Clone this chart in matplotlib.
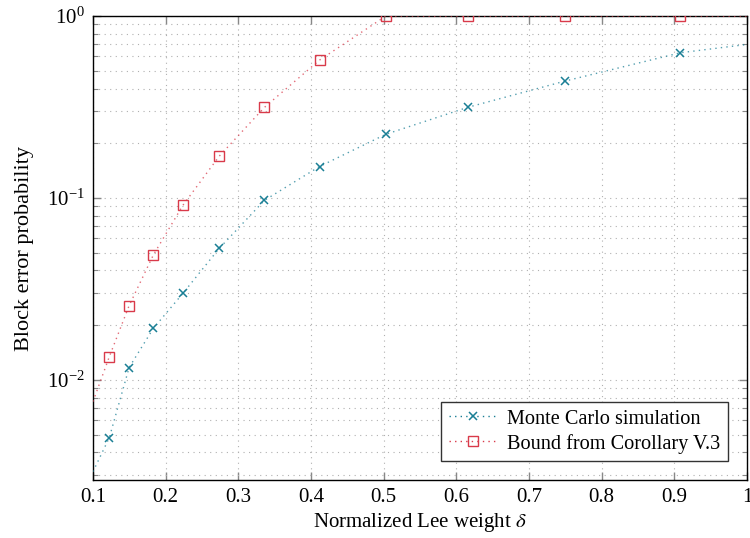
import matplotlib
matplotlib.use('Agg')
import matplotlib.pyplot as plt
from matplotlib.ticker import LogLocator, NullFormatter

plt.rcParams['font.family'] = ['Liberation Serif', 'DejaVu Serif']
plt.rcParams['mathtext.fontset'] = 'stix'

# marker positions (normalized Lee weight)
delta = [0.1225, 0.1497, 0.183, 0.2237, 0.2738, 0.3359, 0.4117, 0.5028, 0.6154, 0.750, 0.9083]
mc_sim = [0.00482, 0.0117, 0.0192, 0.0299, 0.0529, 0.0971, 0.149, 0.224, 0.315, 0.44, 0.629]
bound = [0.01343, 0.0256, 0.0486, 0.0912, 0.170, 0.315, 0.573, 1.0, 1.0, 1.0, 1.0]

# dotted curves (including the ends of the axis)
mc_curve_x = [0.1] + delta + [1.0]
mc_curve_y = [0.00313] + mc_sim + [0.699]
bound_curve_x = [0.1] + delta + [1.0]
bound_curve_y = [0.0076] + bound + [1.0]

teal = '#1a7f95'
red = '#d93a4a'
dots = (0, (1, 3))
grid_dots = (0, (1, 4))

fig = plt.figure(figsize=(7.5, 5.38), dpi=100)
ax = fig.add_axes([0.124, 0.108, 0.872, 0.862])

ax.plot(mc_curve_x, mc_curve_y, ls=dots, color=teal, lw=1.0, alpha=0.75, zorder=3)
ax.plot(bound_curve_x, bound_curve_y, ls=dots, color=red, lw=1.0, alpha=0.75, zorder=3)
ax.plot(delta, mc_sim, 'x', color=teal, ms=6, mew=1.1, zorder=4)
ax.plot(delta, bound, 's', color=red, ms=7, mfc='none', mew=1.0, zorder=4)

# legend handles: line + marker
ax.plot([], [], marker='x', ls=dots, color=teal, ms=6, mew=1.1, lw=1.0, label='Monte Carlo simulation')
ax.plot([], [], marker='s', ls=dots, color=red, ms=7, mfc='none', mew=1.0, lw=1.0, label='Bound from Corollary V.3')

ax.set_yscale('log')
ax.set_xlim(0.1, 1.0)
ax.set_ylim(0.00282, 1.0)
ax.set_xticks([0.1, 0.2, 0.3, 0.4, 0.5, 0.6, 0.7, 0.8, 0.9, 1.0])
ax.set_xticklabels(['0.1', '0.2', '0.3', '0.4', '0.5', '0.6', '0.7', '0.8', '0.9', '1'])
ax.yaxis.set_major_locator(LogLocator(base=10, numticks=10))
ax.yaxis.set_minor_locator(LogLocator(base=10, subs=range(2, 10), numticks=20))
ax.yaxis.set_minor_formatter(NullFormatter())

ax.grid(True, which='major', axis='both', ls=grid_dots, color='#b0b0b0', lw=0.8)
ax.grid(True, which='minor', axis='y', ls=grid_dots, color='#b0b0b0', lw=0.8)

ax.tick_params(which='both', direction='in', top=True, right=True, color='#888888',
               labelsize=15)
ax.tick_params(which='major', length=6, width=1.0, pad=6)
ax.tick_params(which='minor', length=3.5, width=0.8)
for s in ax.spines.values():
    s.set_linewidth(1.0)

ax.set_xlabel(r'Normalized Lee weight $\delta$', fontsize=15, labelpad=3)
ax.set_ylabel('Block error probability', fontsize=16, labelpad=9)

leg = ax.legend(loc='lower right', fontsize=14.6, frameon=True, fancybox=False,
                edgecolor='#333333', framealpha=1, borderpad=0.35, handlelength=2.4,
                handletextpad=0.5, labelspacing=0.25, borderaxespad=0.95)
leg.get_frame().set_linewidth(1.0)

fig.savefig('out.png', dpi=100)
